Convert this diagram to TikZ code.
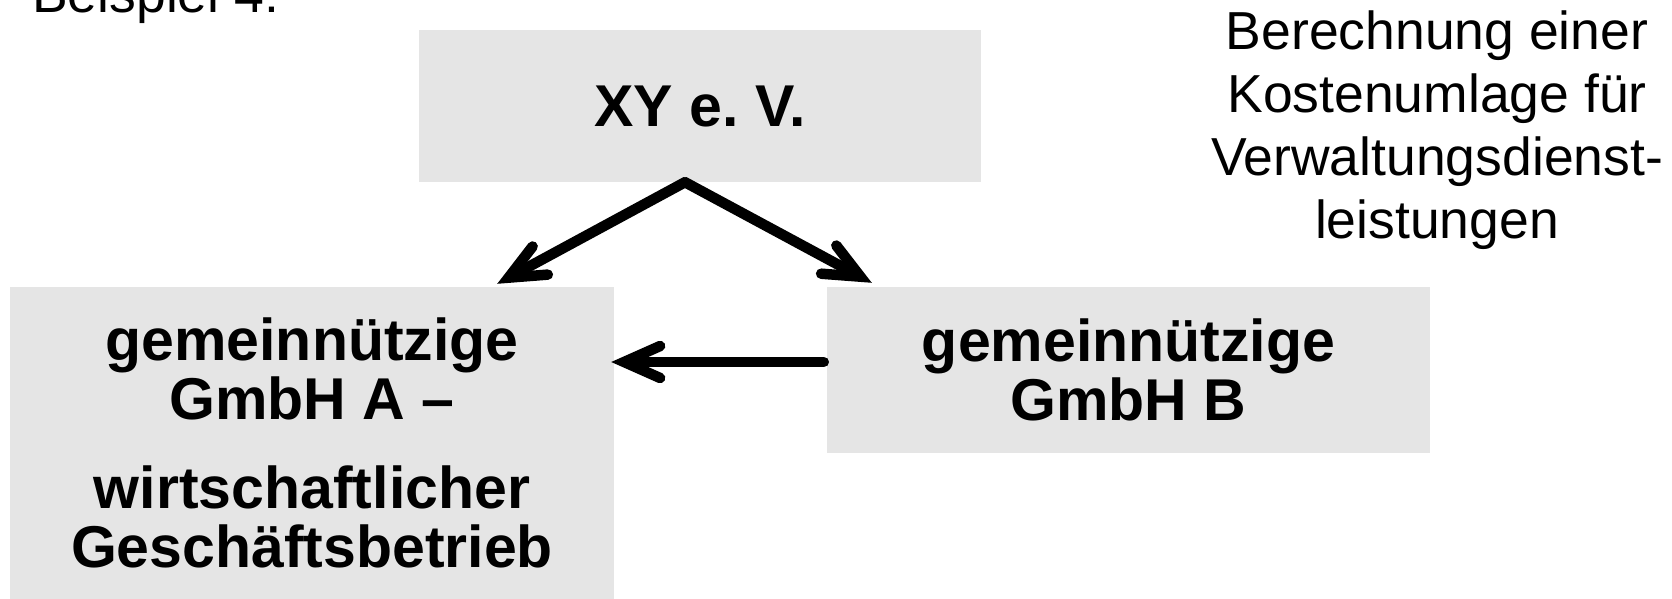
\documentclass[tikz,border=0pt]{standalone}
\usepackage{fontspec}
\setmainfont{Liberation Sans}
\usetikzlibrary{arrows.meta}
\tikzset{
  box/.style={fill=black!10, inner sep=0pt, align=center,
    font=\fontsize{59}{59}\selectfont\bfseries},
  note/.style={inner sep=0pt, align=center,
    font=\fontsize{53.5}{63}\selectfont},
  arr/.style={line width=10.5pt, line cap=round,
    -{Straight Barb[length=36pt, width=32pt, line cap=round, line join=miter]}}
}
\begin{document}
\begin{tikzpicture}[x=1pt, y=-1pt]
  \useasboundingbox (0,0) rectangle (1672,598);

  % organisation boxes
  \node[box, minimum width=562pt, minimum height=152pt] (xy) at (700,106) {XY e.\ V.};
  \node[box, minimum width=604pt, minimum height=312pt] (a) at (312,443)
    {gemeinnützige\\GmbH A –\\[30pt]wirtschaftlicher\\Geschäftsbetrieb};
  \node[box, minimum width=603pt, minimum height=166pt] (b) at (1128.5,370)
    {gemeinnützige\\GmbH B};

  % heading and remark
  \node[note, anchor=base west] (title) at (32,12) {Beispiel 4:};
  \node[note, anchor=north] (remark) at (1437,11)
    {Berechnung einer\\Kostenumlage für\\Verwaltungsdienst-\\leistungen};

  % connectors
  \coordinate (split) at ([xshift=-15pt]xy.south);
  \draw[arr] (split) -- ([xshift=-117pt, yshift=3pt]a.north east);
  \draw[arr] (split) -- ([xshift=45pt, yshift=4pt]b.north west);
  \coordinate (bout) at ([xshift=-3pt, yshift=8pt]b.west);
  \draw[arr] (bout) -- ([xshift=-3pt]a.east |- bout);
\end{tikzpicture}
\end{document}
